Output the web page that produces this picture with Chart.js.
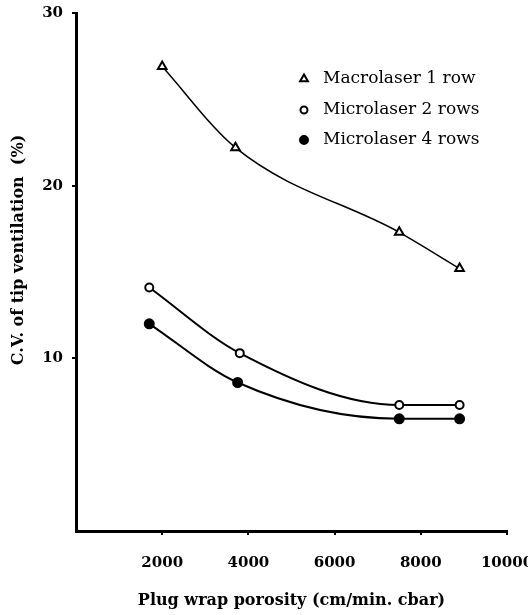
<!DOCTYPE html>
<html>
<head>
<meta charset="utf-8">
<script src="https://cdn.jsdelivr.net/npm/chart.js@4.4.1/dist/chart.umd.min.js"></script>
<style>
    html, body { margin: 0; padding: 0; background: #fff; }
    #wrap { width: 528px; height: 615px; }
</style>
</head>
<body>
<div id="wrap"><canvas id="cvChart"></canvas></div>
<script>
// Данные
const seriesNames = ['Macrolaser 1 row', 'Microlaser 2 rows', 'Microlaser 4 rows'];
const macro1X = [2000, 3700, 7500, 8900];
const macro1Y = [26.9, 22.2, 17.3, 15.2];
const micro2X = [1700, 3800, 7500, 8900];
const micro2Y = [14.1, 10.3, 7.3, 7.3];
const micro4X = [1700, 3750, 7500, 8900];
const micro4Y = [12.0, 8.6, 6.5, 6.5];
const xTicks = [2000, 4000, 6000, 8000, 10000];
const yTicks = [10, 20, 30];
const xTitle = 'Plug wrap porosity (cm/min. cbar)';
const yTitle = 'C.V. of tip ventilation  (%)';

const wideSerif = "'DejaVu Serif', serif";

function toPoints(xs, ys) {
    return xs.map((x, i) => ({ x, y: ys[i] }));
}

const markers = [
    { pointStyle: 'triangle', radius: 5, fill: '#fff' },
    { pointStyle: 'circle', radius: 4, fill: '#fff' },
    { pointStyle: 'circle', radius: 4.5, fill: '#000' }
];

// Легенда внутри области графика и подпись оси Y
const overlay = {
    id: 'overlay',
    afterDraw(chart) {
        const { ctx, chartArea } = chart;
        const mx = chartArea.left + 228;
        const rows = [66, 97, 127];
        ctx.save();
        ctx.font = '17px ' + wideSerif;
        ctx.textBaseline = 'middle';
        seriesNames.forEach((name, i) => {
            const y = chartArea.top + rows[i];
            ctx.fillStyle = markers[i].fill;
            ctx.strokeStyle = '#000';
            ctx.lineWidth = 2;
            Chart.helpers.drawPoint(ctx, {
                pointStyle: markers[i].pointStyle,
                radius: markers[i].radius - 0.5,
                borderWidth: 2,
                rotation: 0
            }, mx, y);
            ctx.fillStyle = '#000';
            ctx.fillText(name, mx + 19, y);
        });

        // подпись оси Y, чуть выше центра как в оригинале
        ctx.translate(19, chartArea.top + 237);
        ctx.rotate(-Math.PI / 2);
        ctx.textAlign = 'center';
        ctx.font = 'bold 16px ' + wideSerif;
        ctx.fillText(yTitle, 0, 0);
        ctx.restore();
    }
};

const datasets = [
    toPoints(macro1X, macro1Y),
    toPoints(micro2X, micro2Y),
    toPoints(micro4X, micro4Y)
].map((data, i) => ({
    label: seriesNames[i],
    data,
    showLine: true,
    borderColor: '#000',
    borderWidth: i === 0 ? 1.5 : 2,
    cubicInterpolationMode: 'monotone',
    pointStyle: markers[i].pointStyle,
    pointRadius: markers[i].radius,
    pointBackgroundColor: markers[i].fill,
    pointBorderColor: '#000',
    pointBorderWidth: 2
}));

new Chart(document.getElementById('cvChart'), {
    type: 'scatter',
    data: { datasets },
    options: {
        responsive: true,
        maintainAspectRatio: false,
        animation: false,
        layout: { padding: { top: 13, right: 21, left: 0, bottom: 0 } },
        plugins: {
            legend: { display: false },
            tooltip: { enabled: false }
        },
        scales: {
            x: {
                type: 'linear',
                min: 0,
                max: 10000,
                afterBuildTicks: (scale) => {
                    scale.ticks = xTicks.map(v => ({ value: v }));
                },
                afterFit: (scale) => {
                    scale.height = 84;
                    scale.paddingLeft = 0;
                    scale.paddingRight = 0;
                },
                grid: {
                    drawOnChartArea: false,
                    drawTicks: true,
                    tickLength: 4,
                    color: '#000',
                    lineWidth: 2
                },
                border: { color: '#000', width: 3 },
                ticks: {
                    color: '#000',
                    padding: 19,
                    maxRotation: 0,
                    callback: (v) => String(v),
                    font: { family: wideSerif, size: 15, weight: 'bold' }
                },
                title: {
                    display: true,
                    text: xTitle,
                    color: '#000',
                    font: { family: wideSerif, size: 16, weight: 'bold' },
                    padding: { top: 0, bottom: 5 }
                }
            },
            y: {
                min: 0,
                max: 30,
                afterBuildTicks: (scale) => {
                    scale.ticks = yTicks.map(v => ({ value: v }));
                },
                afterFit: (scale) => {
                    scale.width = 76;
                    scale.paddingTop = 0;
                    scale.paddingBottom = 0;
                },
                grid: {
                    drawOnChartArea: false,
                    drawTicks: true,
                    tickLength: 4,
                    color: '#000',
                    lineWidth: 2
                },
                border: { color: '#000', width: 3 },
                ticks: {
                    color: '#000',
                    padding: 9,
                    callback: (v) => String(v),
                    font: { family: wideSerif, size: 15, weight: 'bold' }
                }
            }
        }
    },
    plugins: [overlay]
});
</script>
</body>
</html>
